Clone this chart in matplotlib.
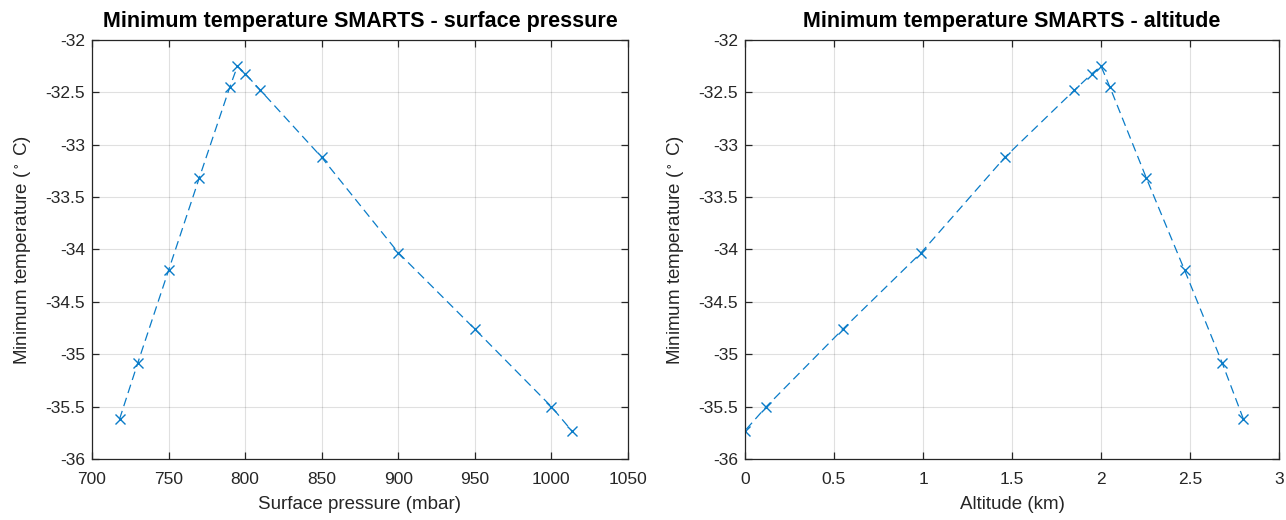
import numpy as np
from matplotlib import pyplot as plt
from matplotlib.ticker import FuncFormatter

# minimum temperature from SMARTS runs
pressure = [718, 730, 750, 770, 790, 795, 800, 810, 850, 900, 950, 1000, 1013.25]
altitude = [2.80, 2.68, 2.47, 2.255, 2.05, 2.0, 1.95, 1.85, 1.46, 0.99, 0.55, 0.12, 0.0]
t_min = [-35.62, -35.08, -34.20, -33.32, -32.45, -32.25, -32.32, -32.48,
         -33.12, -34.03, -34.76, -35.50, -35.73]

plt.rcParams['font.family'] = ['Liberation Sans', 'DejaVu Sans']
blue = '#0a7cc8'
dark = '#262626'

fig = plt.figure(figsize=(12.86, 5.2), dpi=100)
ax1 = fig.add_axes([0.0715, 0.1173, 0.4168, 0.8058])
ax2 = fig.add_axes([0.5793, 0.1173, 0.4153, 0.8058])

def fmt(v, p):
    return '%g' % v

def style(ax):
    ax.grid(True, color='#000000', alpha=0.12, linewidth=0.8)
    ax.set_axisbelow(True)
    for s in ax.spines.values():
        s.set_color(dark)
        s.set_linewidth(0.9)
    ax.tick_params(direction='in', top=True, right=True, length=5,
                   labelsize=12.5, colors=dark, width=0.9)
    ax.tick_params(axis='x', pad=9)
    ax.tick_params(axis='y', pad=5)
    ax.set_ylim(-36, -32)
    ax.set_yticks(np.arange(-36, -31.9, 0.5))
    ax.yaxis.set_major_formatter(FuncFormatter(fmt))
    ax.set_ylabel('Minimum temperature ($\\mathregular{^\\circ}$ C)',
                  fontsize=13.5, color=dark, labelpad=9)
    ax.xaxis.label.set_color(dark)

ax1.plot(pressure, t_min, '--x', color=blue, linewidth=0.9, markersize=7,
         dashes=(7, 4))
ax1.set_xlim(700, 1050)
ax1.set_xticks(np.arange(700, 1051, 50))
ax1.set_xlabel('Surface pressure (mbar)', fontsize=13.5, labelpad=7)
ax1.set_title('Minimum temperature SMARTS - surface pressure',
              fontsize=15.5, fontweight='bold', pad=9)
style(ax1)

ax2.plot(altitude, t_min, '--x', color=blue, linewidth=0.9, markersize=7,
         dashes=(7, 4))
ax2.set_xlim(0, 3)
ax2.set_xticks(np.arange(0, 3.01, 0.5))
ax2.xaxis.set_major_formatter(FuncFormatter(fmt))
ax2.set_xlabel('Altitude (km)', fontsize=13.5, labelpad=7)
ax2.set_title('Minimum temperature SMARTS - altitude',
              fontsize=15.5, fontweight='bold', pad=9)
style(ax2)

fig.savefig('out.png', dpi=100)
